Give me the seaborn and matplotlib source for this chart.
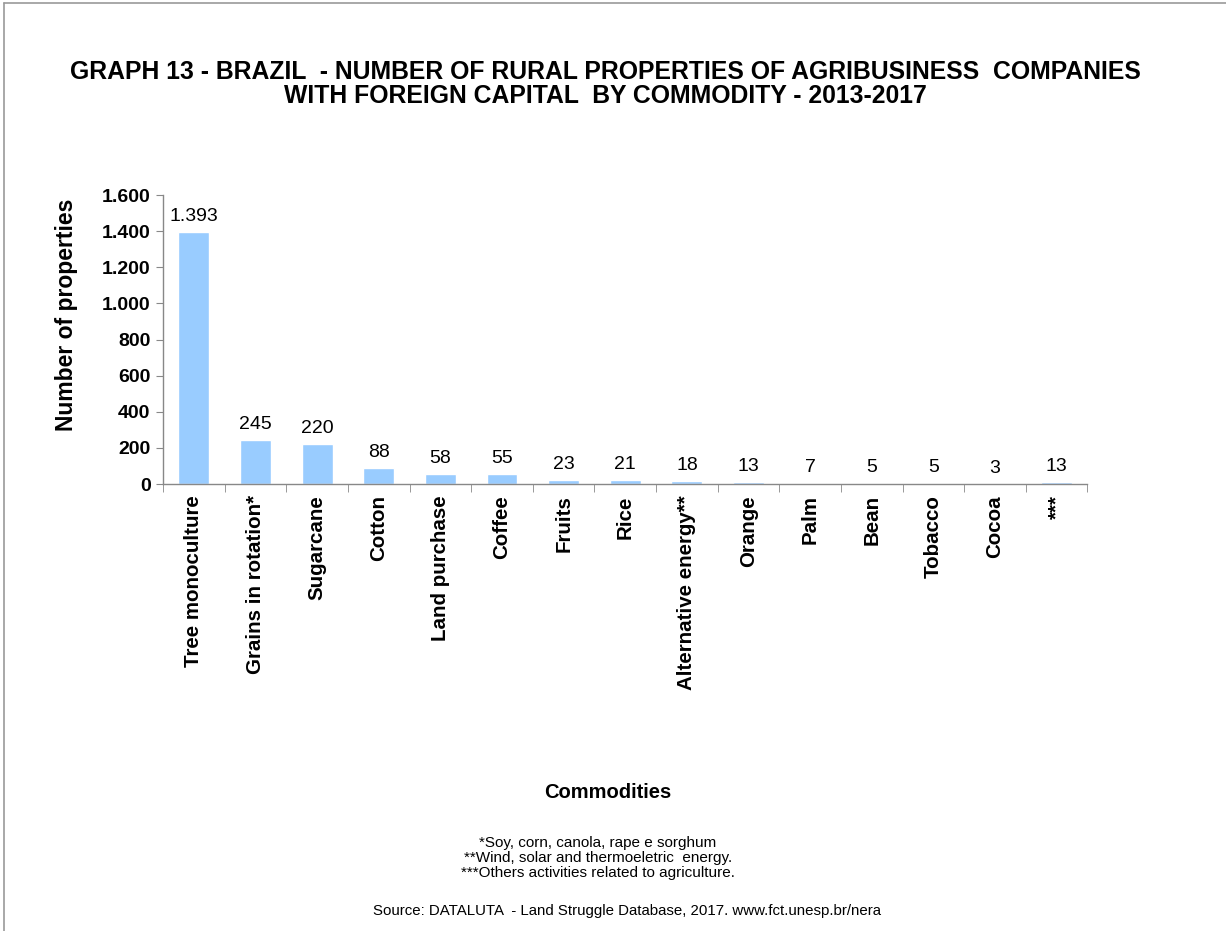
import matplotlib
matplotlib.use("Agg")
import matplotlib.pyplot as plt
import seaborn as sns
import pandas as pd
from matplotlib.lines import Line2D

categories = ["Tree monoculture", "Grains in rotation*", "Sugarcane", "Cotton",
              "Land purchase", "Coffee", "Fruits", "Rice", "Alternative energy**",
              "Orange", "Palm", "Bean", "Tobacco", "Cocoa", "***"]
values = [1393, 245, 220, 88, 58, 55, 23, 21, 18, 13, 7, 5, 5, 3, 13]
value_labels = ["1.393", "245", "220", "88", "58", "55", "23", "21", "18",
                "13", "7", "5", "5", "3", "13"]
yticks = [0, 200, 400, 600, 800, 1000, 1200, 1400, 1600]
ytick_labels = ["0", "200", "400", "600", "800", "1.000", "1.200", "1.400", "1.600"]
footnotes = ["*Soy, corn, canola, rape e sorghum",
             "**Wind, solar and thermoeletric  energy.",
             "***Others activities related to agriculture."]

sns.set_style("white")
plt.rcParams['font.family'] = ['Liberation Sans', 'DejaVu Sans']
plt.rcParams['text.color'] = 'black'
plt.rcParams['axes.labelcolor'] = 'black'
plt.rcParams['xtick.color'] = 'black'
plt.rcParams['ytick.color'] = 'black'

fig = plt.figure(figsize=(12.26, 9.31), dpi=100)
ax = fig.add_axes([0.133, 0.480, 0.754, 0.3105])

df = pd.DataFrame({"cat": categories, "val": values})
sns.barplot(data=df, x="cat", y="val", color="#99CCFF", saturation=1,
            width=0.5, ax=ax)

ax.set_ylim(0, 1600)
ax.set_xlim(-0.5, len(categories) - 0.5)
ax.set_yticks(yticks)
ax.set_yticklabels(ytick_labels, fontsize=14, fontweight="bold")
ax.set_xticks(range(len(categories)))
ax.set_xticklabels(categories, rotation=90, fontsize=14.8, fontweight="bold")
ax.tick_params(axis="x", length=0, pad=8)
ax.tick_params(axis="y", length=5, color="#888888", labelcolor="black",
               direction="out", left=True, pad=4)
ax.set_xticks([i - 0.5 for i in range(len(categories) + 1)], minor=True)
ax.tick_params(axis="x", which="minor", length=6, color="#888888",
               direction="out", bottom=True)

for s in ["top", "right"]:
    ax.spines[s].set_visible(False)
for s in ["left", "bottom"]:
    ax.spines[s].set_color("#888888")
    ax.spines[s].set_linewidth(1)

ax.set_xlabel("")
ax.set_ylabel("Number of properties", fontsize=16.5, fontweight="bold")
ax.yaxis.set_label_coords(-0.092, 0.585)

for i, (v, lab) in enumerate(zip(values, value_labels)):
    ax.annotate(lab, (i, v), xytext=(0, 5), textcoords="offset points",
                ha="center", va="bottom", fontsize=14)

fig.text(605 / 1226, 1 - 72 / 931,
         "GRAPH 13 - BRAZIL  - NUMBER OF RURAL PROPERTIES OF AGRIBUSINESS  COMPANIES",
         ha="center", va="center", fontsize=17.8, fontweight="bold")
fig.text(605 / 1226, 1 - 96 / 931,
         "WITH FOREIGN CAPITAL  BY COMMODITY - 2013-2017",
         ha="center", va="center", fontsize=17.8, fontweight="bold")

fig.text(608 / 1226, 1 - 793 / 931, "Commodities", ha="center", va="center",
         fontsize=14.5, fontweight="bold")
for k, line in enumerate(footnotes):
    fig.text(598 / 1226, 1 - (843 + 15 * k) / 931, line,
             ha="center", va="center", fontsize=11)
fig.text(627 / 1226, 1 - 911 / 931,
         "Source: DATALUTA  - Land Struggle Database, 2017. www.fct.unesp.br/nera",
         ha="center", va="center", fontsize=10.8)

fig.add_artist(Line2D([0.003, 1.0], [0.997, 0.997], color="#999999", lw=1.2,
                      transform=fig.transFigure))
fig.add_artist(Line2D([0.003, 0.003], [0.0, 0.997], color="#999999", lw=1.2,
                      transform=fig.transFigure))

fig.savefig("out.png", dpi=100, facecolor="white")
